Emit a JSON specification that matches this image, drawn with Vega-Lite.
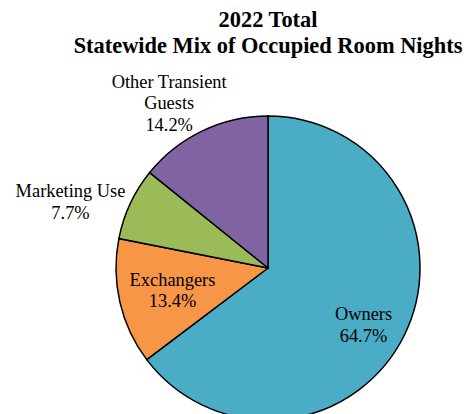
{
  "$schema": "https://vega.github.io/schema/vega-lite/v6.json",
  "autosize": "none",
  "width": 304,
  "height": 304,
  "padding": {"left": 116, "top": 116, "right": 47, "bottom": 0},
  "background": "white",
  "title": {
    "text": ["2022 Total", "Statewide Mix of Occupied Room Nights"],
    "font": "Liberation Serif",
    "fontSize": 22.4,
    "fontWeight": "bold",
    "color": "black",
    "lineHeight": 26,
    "anchor": "middle",
    "offset": 15
  },
  "data": {
    "values": [
      {"rank": 1, "category": "Owners", "share": 64.7, "label": "Owners\n64.7%"},
      {"rank": 2, "category": "Exchangers", "share": 13.4, "label": "Exchangers\n13.4%"},
      {"rank": 3, "category": "Marketing Use", "share": 7.7, "label": "Marketing Use\n7.7%"},
      {"rank": 4, "category": "Other Transient Guests", "share": 14.2, "label": "Other Transient\nGuests\n14.2%"}
    ]
  },
  "encoding": {
    "theta": {"field": "share", "type": "quantitative", "stack": true},
    "order": {"field": "rank", "type": "quantitative"}
  },
  "layer": [
    {
      "mark": {"type": "arc", "stroke": "black", "strokeWidth": 1.5},
      "encoding": {
        "color": {
          "field": "category",
          "type": "nominal",
          "scale": {
            "domain": ["Owners", "Exchangers", "Marketing Use", "Other Transient Guests"],
            "range": ["#4BACC6", "#F79646", "#9BBB59", "#8064A2"]
          },
          "legend": null
        }
      }
    },
    {
      "mark": {"type": "text", "radius": 110, "dx": -3, "dy": -3, "font": "Liberation Serif", "fontSize": 18.4, "lineHeight": 21.5, "lineBreak": "\n", "color": "black", "align": "center", "baseline": "middle"},
      "encoding": {"text": {"condition": {"test": "datum.category == 'Owners'", "field": "label"}, "value": ""}}
    },
    {
      "mark": {"type": "text", "radius": 98, "dy": -10, "font": "Liberation Serif", "fontSize": 18.4, "lineHeight": 21.5, "lineBreak": "\n", "color": "black", "align": "center", "baseline": "middle"},
      "encoding": {"text": {"condition": {"test": "datum.category == 'Exchangers'", "field": "label"}, "value": ""}}
    },
    {
      "mark": {"type": "text", "radius": 208, "dx": -9, "dy": 11, "font": "Liberation Serif", "fontSize": 18.4, "lineHeight": 21.5, "lineBreak": "\n", "color": "black", "align": "center", "baseline": "middle"},
      "encoding": {"text": {"condition": {"test": "datum.category == 'Marketing Use'", "field": "label"}, "value": ""}}
    },
    {
      "mark": {"type": "text", "radius": 192, "dx": -16, "dy": -13, "font": "Liberation Serif", "fontSize": 18.4, "lineHeight": 21.5, "lineBreak": "\n", "color": "black", "align": "center", "baseline": "middle"},
      "encoding": {"text": {"condition": {"test": "datum.category == 'Other Transient Guests'", "field": "label"}, "value": ""}}
    }
  ]
}
